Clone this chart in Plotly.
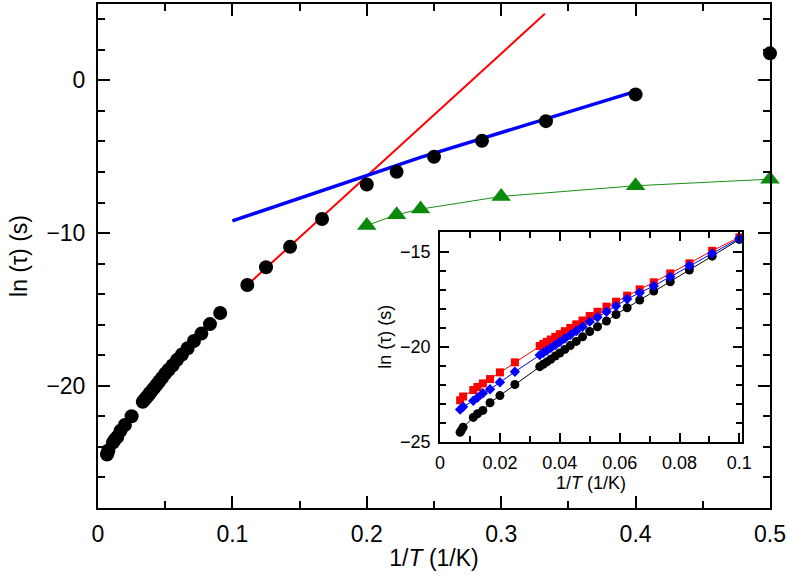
import plotly.graph_objects as go

# ---------------- data ----------------
# inset: three data sets, ln(tau) vs 1/T for 1/T <= 0.1
inset_x = [0.0067, 0.0077, 0.0111, 0.0125, 0.0143, 0.0167, 0.02, 0.025, 0.0333,
           0.0345, 0.0357, 0.037, 0.0385, 0.04, 0.0417, 0.0435, 0.0455, 0.0476,
           0.05, 0.0526, 0.0556, 0.0588, 0.0625, 0.0667, 0.0714, 0.0769, 0.0833,
           0.0909, 0.1]
black_x = [0.0067, 0.0071, 0.0077, 0.0111, 0.0125, 0.0143, 0.0167, 0.02, 0.025, 0.0333,
           0.0345, 0.0357, 0.037, 0.0385, 0.04, 0.0417, 0.0435, 0.0455, 0.0476,
           0.05, 0.0526, 0.0556, 0.0588, 0.0625, 0.0667, 0.0714, 0.0769, 0.0833,
           0.0909, 0.1]
black_y = [-24.5, -24.4, -24.24, -23.72, -23.53, -23.35, -22.95, -22.57, -21.99, -21.05,
           -20.92, -20.8, -20.66, -20.49, -20.33, -20.14, -19.94, -19.72, -19.48,
           -19.2, -18.95, -18.65, -18.3, -17.95, -17.54, -17.07, -16.58, -15.96,
           -15.23, -14.35]
red_y = [-22.82, -22.62, -22.28, -22.12, -21.93, -21.7, -21.35, -20.82, -19.96,
         -19.85, -19.74, -19.62, -19.48, -19.34, -19.18, -19.01, -18.82, -18.62,
         -18.38, -18.16, -17.89, -17.63, -17.31, -16.98, -16.61, -16.14, -15.61,
         -14.95, -14.24]
blue_y = [-23.3, -23.16, -22.84, -22.68, -22.45, -22.24, -21.87, -21.32, -20.44,
          -20.32, -20.2, -20.06, -19.91, -19.75, -19.57, -19.38, -19.17, -18.95,
          -18.68, -18.45, -18.16, -17.86, -17.49, -17.16, -16.8, -16.32, -15.74,
          -15.09, -14.3]

# main panel: low-temperature points beyond the inset range
main_hi_x = [0.1111, 0.125, 0.1429, 0.1667, 0.2, 0.2222, 0.25, 0.2857, 0.3333, 0.4, 0.5]
main_hi_y = [-13.4, -12.24, -10.9, -9.08, -6.82, -5.99, -5.0, -3.96, -2.67, -0.92, 1.77]

green_x = [0.2, 0.2222, 0.24, 0.3, 0.4, 0.5]
green_y = [-9.5, -8.8, -8.43, -7.6, -6.9, -6.47]

red_fit_x = [0.1111, 0.3325]
red_fit_y = [-13.4, 4.36]
blue_fit_x = [0.1, 0.24, 0.4]
blue_fit_y = [-9.2, -5.04, -0.72]

main_x_ticks = [0, 0.1, 0.2, 0.3, 0.4, 0.5]
main_y_ticks = [-20, -10, 0]
inset_x_ticks = [0, 0.02, 0.04, 0.06, 0.08, 0.1]
inset_y_ticks = [-25, -20, -15]

# main panel black circles = inset black set (without 1/T = 0.1) + high 1/T points
main_black_x = black_x[:-1] + main_hi_x
main_black_y = black_y[:-1] + main_hi_y

FONT = "Liberation Sans, Arial, Helvetica, sans-serif"

fig = go.Figure()

# ---------------- main panel ----------------
fig.add_trace(go.Scatter(x=red_fit_x, y=red_fit_y, mode="lines",
                         line=dict(color="#ff0000", width=2), xaxis="x", yaxis="y",
                         showlegend=False, hoverinfo="skip"))
fig.add_trace(go.Scatter(x=blue_fit_x, y=blue_fit_y, mode="lines",
                         line=dict(color="#0000ff", width=3.5), xaxis="x", yaxis="y",
                         showlegend=False, hoverinfo="skip"))
fig.add_trace(go.Scatter(x=green_x, y=green_y, mode="lines+markers",
                         line=dict(color="#169016", width=1),
                         marker=dict(symbol="triangle-up", size=17, color="#0a8a0a"),
                         xaxis="x", yaxis="y", cliponaxis=False, showlegend=False))
fig.add_trace(go.Scatter(x=main_black_x, y=main_black_y, mode="markers",
                         marker=dict(symbol="circle", size=14, color="black"),
                         xaxis="x", yaxis="y", cliponaxis=False, showlegend=False))

# ---------------- inset ----------------
fig.add_trace(go.Scatter(x=black_x, y=black_y, mode="lines+markers",
                         line=dict(color="black", width=1),
                         marker=dict(symbol="circle", size=9, color="black"),
                         xaxis="x2", yaxis="y2", cliponaxis=False, showlegend=False))
fig.add_trace(go.Scatter(x=inset_x, y=red_y, mode="lines+markers",
                         line=dict(color="#ff0000", width=1),
                         marker=dict(symbol="square", size=8, color="#ff0000"),
                         xaxis="x2", yaxis="y2", cliponaxis=False, showlegend=False))
fig.add_trace(go.Scatter(x=inset_x, y=blue_y, mode="lines+markers",
                         line=dict(color="#0000ff", width=1),
                         marker=dict(symbol="diamond", size=8, color="#0000ff"),
                         xaxis="x2", yaxis="y2", cliponaxis=False, showlegend=False))

axis_common = dict(showline=True, linewidth=2, linecolor="black", mirror="allticks",
                   ticks="inside", tickcolor="black", showgrid=False, zeroline=False,
                   automargin=False)

fig.update_layout(
    width=788, height=583,
    margin=dict(l=98, r=18, t=4, b=75),
    paper_bgcolor="white", plot_bgcolor="white",
    font=dict(family=FONT, color="black"),
    xaxis=dict(**axis_common, domain=[0, 1], range=[0, 0.5],
               tickvals=main_x_ticks, ticklen=12, tickwidth=1.5,
               minor=dict(dtick=0.05, tick0=0, ticks="inside", ticklen=7, tickwidth=1.5,
                          tickcolor="black", showgrid=False),
               tickfont=dict(size=23), ticklabelstandoff=4,
               title=dict(text="1/<i>T</i> (1/K)", font=dict(size=23), standoff=4)),
    yaxis=dict(**axis_common, domain=[0, 1], range=[-28, 5],
               tickvals=main_y_ticks, ticklen=12, tickwidth=1.5,
               minor=dict(dtick=2, tick0=0, ticks="inside", ticklen=7, tickwidth=1.5,
                          tickcolor="black", showgrid=False),
               tickfont=dict(size=23), ticklabelstandoff=6,
               title=dict(text="ln (τ) (s)", font=dict(size=23), standoff=12)),
    xaxis2=dict(**axis_common, anchor="y2", domain=[0.509, 0.958], range=[0, 0.1008],
                tickvals=inset_x_ticks, ticklen=9, tickwidth=1.5,
                minor=dict(dtick=0.01, tick0=0, ticks="inside", ticklen=6, tickwidth=1.5,
                           tickcolor="black", showgrid=False),
                tickfont=dict(size=18), ticklabelstandoff=4,
                title=dict(text="1/<i>T</i> (1/K)", font=dict(size=18), standoff=2)),
    yaxis2=dict(**axis_common, anchor="x2", domain=[0.1315, 0.548], range=[-25, -13.95],
                tickvals=inset_y_ticks, ticklen=9, tickwidth=1.5,
                minor=dict(dtick=1, tick0=0, ticks="inside", ticklen=6, tickwidth=1.5,
                           tickcolor="black", showgrid=False),
                tickfont=dict(size=18), ticklabelstandoff=4,
                title=dict(text="ln (τ) (s)", font=dict(size=18), standoff=4)),
)

fig.write_html("out.html",
               config={"displayModeBar": False},
               post_script="document.body.style.margin='0px';"
                           "document.body.style.overflow='hidden';")
